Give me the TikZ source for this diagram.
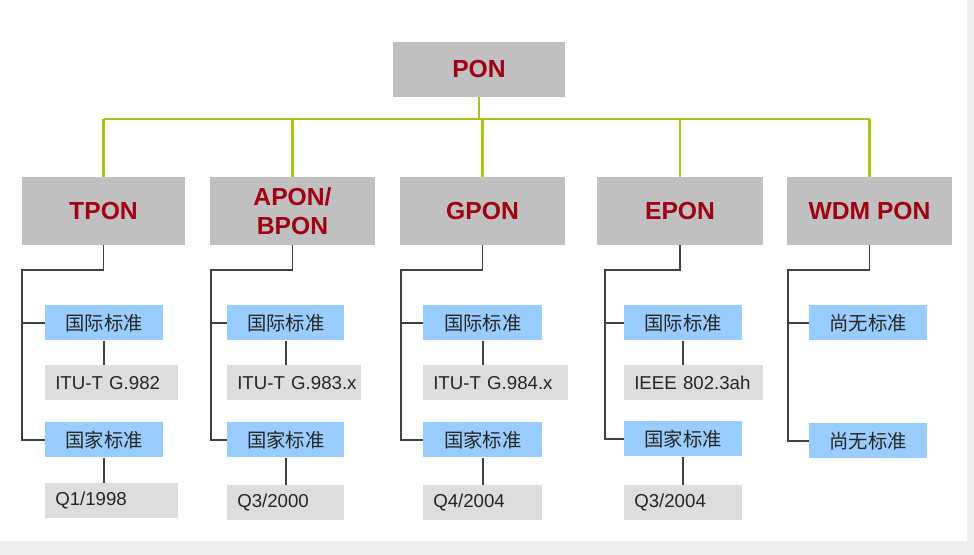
\documentclass[tikz,border=0pt]{standalone}
\usepackage{fontspec}
\setmainfont{Liberation Sans}
\newfontfamily\cjk{Noto Sans CJK SC}
\usetikzlibrary{
    positioning,
    calc
}

\definecolor{ponred}{RGB}{160,0,20}
\definecolor{familygray}{RGB}{192,192,192}
\definecolor{leafgray}{RGB}{221,221,221}
\definecolor{stdblue}{RGB}{153,204,255}
\definecolor{busgreen}{RGB}{160,200,20}
\definecolor{pagegray}{RGB}{238,238,238}

\tikzset{
    % --- Family block (gray, dark red bold title) ---
    family/.style = {
        rectangle, fill=familygray, align=center,
        minimum width=123.75pt, minimum height=51pt,
        inner sep=2pt, text=ponred,
        font=\fontsize{18.5}{22}\selectfont\bfseries
    },
    % --- Standard category block (blue) ---
    std box/.style = {
        rectangle, fill=stdblue, anchor=north west,
        minimum width=88.5pt, minimum height=26.25pt,
        inner sep=0pt, text=black!85,
        font=\cjk\fontsize{14.5}{16}\selectfont
    },
    % --- Standard name / date (light gray, text at left) ---
    leaf/.style = {
        rectangle, fill=leafgray, anchor=north west,
        text width=#1, align=left,
        inner xsep=7.5pt, inner ysep=0pt, text=black!85,
        minimum height=26.25pt,
        font=\fontsize{14}{16}\selectfont
    },
    % --- Green bus from PON ---
    bus line/.style = {
        draw=busgreen, line width=2.2pt
    },
    % --- Dark tree connector ---
    tree line/.style = {
        draw=black!75, line width=1.3pt
    }
}

\begin{document}
\begin{tikzpicture}[x=0.75pt, y=-0.75pt]

% ---------------------------------------------------------
% Page
% ---------------------------------------------------------
\useasboundingbox (0,0) rectangle (974,555);
\fill[pagegray] (0,0) rectangle (974,555);
\fill[white] (0,0) rectangle (967,541);

% ---------------------------------------------------------
% PON and families
% ---------------------------------------------------------
\node[family, minimum width=129pt, minimum height=41.25pt] (PON) at (479,69.5) {PON};
\coordinate (bus) at (479,119);

\node[family, minimum width=122.25pt] (TPON) at (103.5,211) {TPON};
\node[family] (APON) at (292.5,211) {APON/\\BPON};
\node[family] (GPON) at (482.5,211) {GPON};
\node[family, minimum width=124.5pt] (EPON) at (680,211) {EPON};
\node[family] (WDM) at (869.5,211) {WDM PON};

\draw[bus line] (PON.south) -- (bus);
\draw[bus line] (bus -| TPON.north) -- (bus -| WDM.north);
\draw[bus line] (bus -| TPON.north) -- (TPON.north);
\draw[bus line] (bus -| APON.north) -- (APON.north);
\draw[bus line] (bus -| GPON.north) -- (GPON.north);
\draw[bus line] (bus -| EPON.north) -- (EPON.north);
\draw[bus line] (bus -| WDM.north) -- (WDM.north);

% ---------------------------------------------------------
% TPON
% ---------------------------------------------------------
\coordinate (T-trunk) at (22,270);
\node[std box] (T-intl) at (45,305) {国际标准};
\node[leaf=84.75pt] (T-std) at (45,365) {\mbox{ITU-T}~G.982};
\node[std box] (T-nat) at (45,422) {国家标准};
\node[leaf=84.75pt] (T-date) at (45,483) {Q1/1998};

\draw[tree line] (TPON.south) |- (T-trunk) |- (T-nat.west);
\draw[tree line] (T-intl.west -| T-trunk) -- (T-intl.west);
\draw[tree line] (T-intl.south) -- (T-intl.south |- T-std.north);
\draw[tree line] (T-nat.south) -- (T-nat.south |- T-date.north);

% ---------------------------------------------------------
% APON / BPON
% ---------------------------------------------------------
\coordinate (A-trunk) at (211,270);
\node[std box, minimum width=87.75pt] (A-intl) at (227,305) {国际标准};
\node[leaf=85.5pt] (A-std) at (227,365) {\mbox{ITU-T}~G.983.x};
\node[std box, minimum width=87.75pt] (A-nat) at (227,422) {国家标准};
\node[leaf=72.75pt] (A-date) at (227,485) {Q3/2000};

\draw[tree line] (APON.south) |- (A-trunk) |- (A-nat.west);
\draw[tree line] (A-intl.west -| A-trunk) -- (A-intl.west);
\draw[tree line] (A-intl.south) -- (A-intl.south |- A-std.north);
\draw[tree line] (A-nat.south) -- (A-nat.south |- A-date.north);

% ---------------------------------------------------------
% GPON
% ---------------------------------------------------------
\coordinate (G-trunk) at (401,270);
\node[std box, minimum width=89.25pt] (G-intl) at (423,305) {国际标准};
\node[leaf=93.75pt] (G-std) at (423,365) {\mbox{ITU-T}~G.984.x};
\node[std box, minimum width=89.25pt] (G-nat) at (423,422) {国家标准};
\node[leaf=74.25pt] (G-date) at (423,485) {Q4/2004};

\draw[tree line] (GPON.south) |- (G-trunk) |- (G-nat.west);
\draw[tree line] (G-intl.west -| G-trunk) -- (G-intl.west);
\draw[tree line] (G-intl.south) -- (G-intl.south |- G-std.north);
\draw[tree line] (G-nat.south) -- (G-nat.south |- G-date.north);

% ---------------------------------------------------------
% EPON
% ---------------------------------------------------------
\coordinate (E-trunk) at (605,270);
\node[std box] (E-intl) at (624,305) {国际标准};
\node[leaf=89.25pt] (E-std) at (624,365) {IEEE~802.3ah};
\node[std box] (E-nat) at (624,421) {国家标准};
\node[leaf=73.5pt] (E-date) at (624,485) {Q3/2004};

\draw[tree line] (EPON.south) |- (E-trunk) |- (E-nat.west);
\draw[tree line] (E-intl.west -| E-trunk) -- (E-intl.west);
\draw[tree line] (E-intl.south) -- (E-intl.south |- E-std.north);
\draw[tree line] (E-nat.south) -- (E-nat.south |- E-date.north);

% ---------------------------------------------------------
% WDM PON
% ---------------------------------------------------------
\coordinate (W-trunk) at (788,270);
\node[std box] (W-intl) at (809,305) {尚无标准};
\node[std box] (W-nat) at (809,423) {尚无标准};

\draw[tree line] (WDM.south) |- (W-trunk) |- (W-nat.west);
\draw[tree line] (W-intl.west -| W-trunk) -- (W-intl.west);

\end{tikzpicture}
\end{document}
